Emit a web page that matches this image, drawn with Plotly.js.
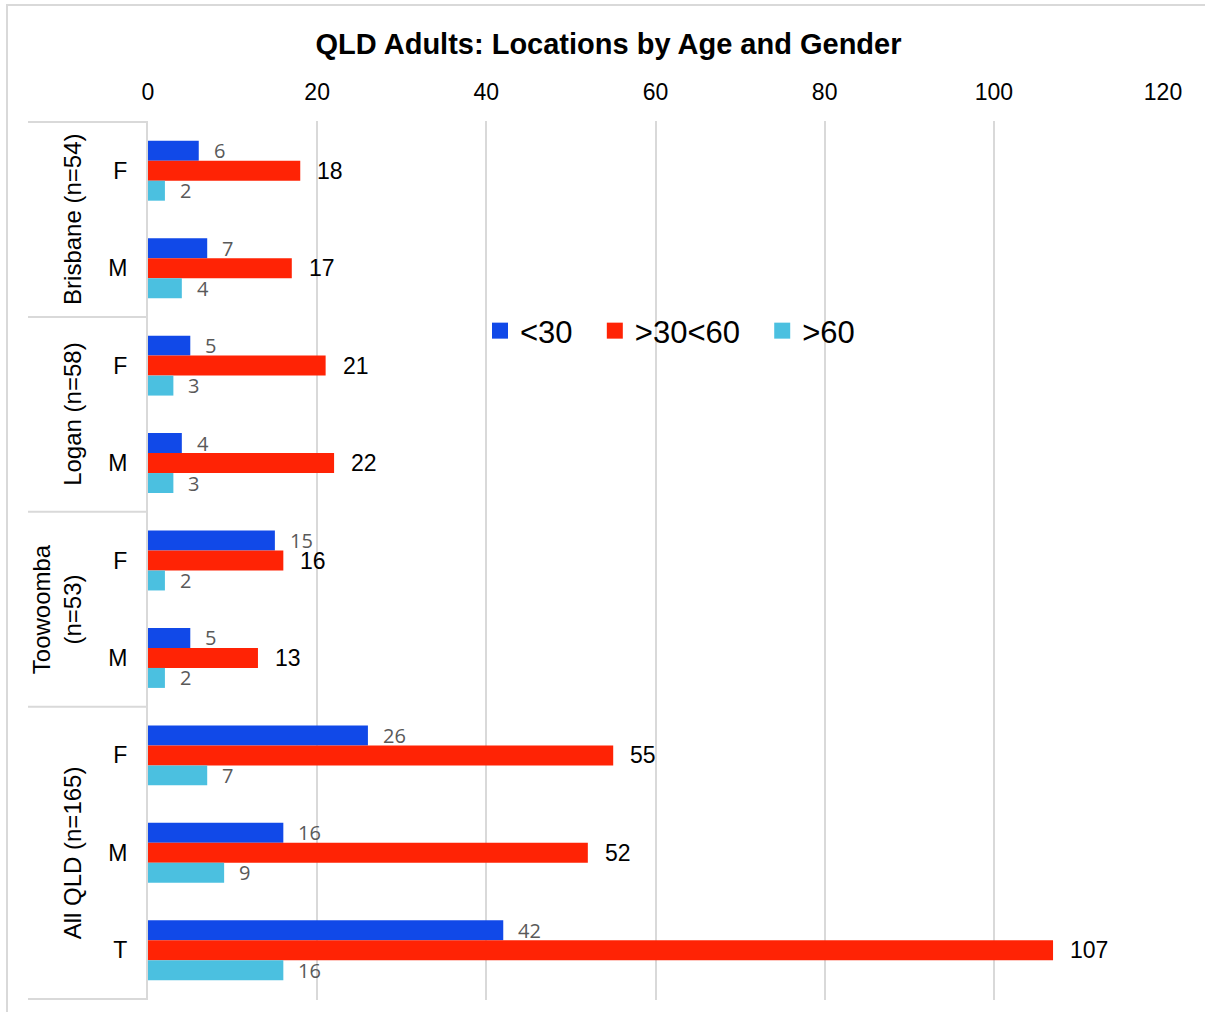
<!DOCTYPE html>
<html>
<head>
<meta charset="utf-8">
<script src="https://cdn.plot.ly/plotly-3.0.1.min.js"></script>
<style>html,body{margin:0;padding:0;background:#fff;}#chart{width:1205px;height:1012px;}</style>
</head>
<body>
<div id="chart"></div>
<script>
// ---- data ----
const groupNames = ["Brisbane (n=54)", "Logan (n=58)", "Toowoomba<br>(n=53)", "All QLD (n=165)"];
const groupOf = [0, 0, 1, 1, 2, 2, 3, 3, 3];
const genders = ["F", "M", "F", "M", "F", "M", "F", "M", "T"];
const seriesNames = ["<30", ">30<60", ">60"];
const under30 = [6, 7, 5, 4, 15, 5, 26, 16, 42];
const from30to60 = [18, 17, 21, 22, 16, 13, 55, 52, 107];
const over60 = [2, 4, 3, 3, 2, 2, 7, 9, 16];
const xTicks = [0, 20, 40, 60, 80, 100, 120];

// ---- styling ----
const colors = ["#1149e8", "#ff2305", "#4bc0e0"];
const keys = genders.map((g, i) => groupNames[groupOf[i]].replace("<br>", " ") + " " + g);
const seriesVals = [under30, from30to60, over60];
const FONT = "Liberation Sans, Arial, sans-serif";
const NBSP = "\u00a0";

const plotL = 148, plotW = 1015, plotT = 121, plotB = 1000, plotH = plotB - plotT;
const toPaperX = px => (px - plotL) / plotW;
const toPaperY = py => (plotB - py) / plotH;

const traces = seriesVals.map((vals, s) => ({
  type: "bar",
  orientation: "h",
  name: seriesNames[s],
  x: vals,
  y: keys,
  marker: {color: colors[s]},
  showlegend: false,
  hoverinfo: "x+name"
}));
// legend proxies (square markers)
const legendPad = [2, 2, 0];
seriesNames.forEach((n, s) => traces.push({
  type: "scatter", mode: "markers", name: n + NBSP.repeat(legendPad[s]), x: [null], y: [null],
  marker: {symbol: "square", size: 16, color: colors[s]}, showlegend: true, hoverinfo: "skip"
}));

// value labels
const annotations = [];
seriesVals.forEach((vals, s) => {
  vals.forEach((v, i) => {
    const isMid = s === 1;
    annotations.push({
      x: v, y: keys[i], xref: "x", yref: "y", text: String(v), showarrow: false,
      xanchor: "left", yanchor: "middle", xshift: isMid ? 15 : 13, yshift: s === 0 ? 20 : (s === 2 ? -20 : 0),
      font: isMid ? {family: FONT, size: 23, color: "#000"} : {family: "Open Sans, sans-serif", size: 20, color: "#595959"}
    });
  });
});
// group labels
groupNames.forEach((g, gi) => {
  const idx = groupOf.map((v, i) => v === gi ? i : -1).filter(i => i >= 0);
  const mid = (idx[0] + idx[idx.length - 1]) / 2;
  annotations.push({
    x: toPaperX(88), xref: "paper", y: mid, yref: "y", text: g, showarrow: false,
    textangle: -90, xanchor: "right", yanchor: "middle",
    font: {family: FONT, size: 24, color: "#000"}
  });
});

// separators
const shapes = [];
const bounds = [-0.5];
groupNames.forEach((g, gi) => {
  const idx = groupOf.map((v, i) => v === gi ? i : -1).filter(i => i >= 0);
  bounds.push(idx[idx.length - 1] + 0.5);
});
bounds.forEach(b => shapes.push({
  type: "line", xref: "paper", yref: "y", x0: toPaperX(28), x1: 0, y0: b, y1: b,
  line: {color: "#d9d9d9", width: 2}
}));
// outer chart border (only top and left visible)
shapes.push({
  type: "rect", xref: "paper", yref: "paper",
  x0: toPaperX(7), x1: toPaperX(1230), y0: toPaperY(1040), y1: toPaperY(5),
  line: {color: "#d9d9d9", width: 2}, fillcolor: "rgba(0,0,0,0)", layer: "below"
});

const layout = {
  width: 1205, height: 1012,
  margin: {l: plotL, r: 1205 - plotL - plotW, t: plotT, b: 1012 - plotB},
  paper_bgcolor: "#fff", plot_bgcolor: "#fff",
  font: {family: FONT, color: "#000"},
  title: {text: "<b>QLD Adults: Locations by Age and Gender</b>", x: 0.505, xref: "container", xanchor: "center",
          y: 1 - 44 / 1012, yref: "container", yanchor: "middle", font: {family: FONT, size: 29, color: "#000"}},
  barmode: "group", bargap: 0.385, bargroupgap: 0,
  xaxis: {side: "top", range: [0, 120], tickvals: xTicks, ticktext: xTicks.map(String),
          showgrid: true, gridcolor: "#d9d9d9", gridwidth: 2, zeroline: false, showline: false,
          ticks: "", ticklabelstandoff: 15, tickfont: {family: FONT, size: 23, color: "#000"}, fixedrange: true},
  yaxis: {type: "category", autorange: "reversed", tickvals: keys, ticktext: genders,
          showgrid: false, zeroline: false, showline: true, linecolor: "#d9d9d9", linewidth: 2,
          ticks: "", ticklabelstandoff: 14, tickfont: {family: FONT, size: 23, color: "#000"}, fixedrange: true},
  legend: {orientation: "h", x: toPaperX(480), xanchor: "left", y: toPaperY(331), yanchor: "middle",
           font: {family: FONT, size: 31, color: "#000"}, bgcolor: "rgba(0,0,0,0)", itemwidth: 30, tracegroupgap: 0},
  annotations: annotations,
  shapes: shapes
};

Plotly.newPlot("chart", traces, layout, {displayModeBar: false, staticPlot: true});
</script>
</body>
</html>
